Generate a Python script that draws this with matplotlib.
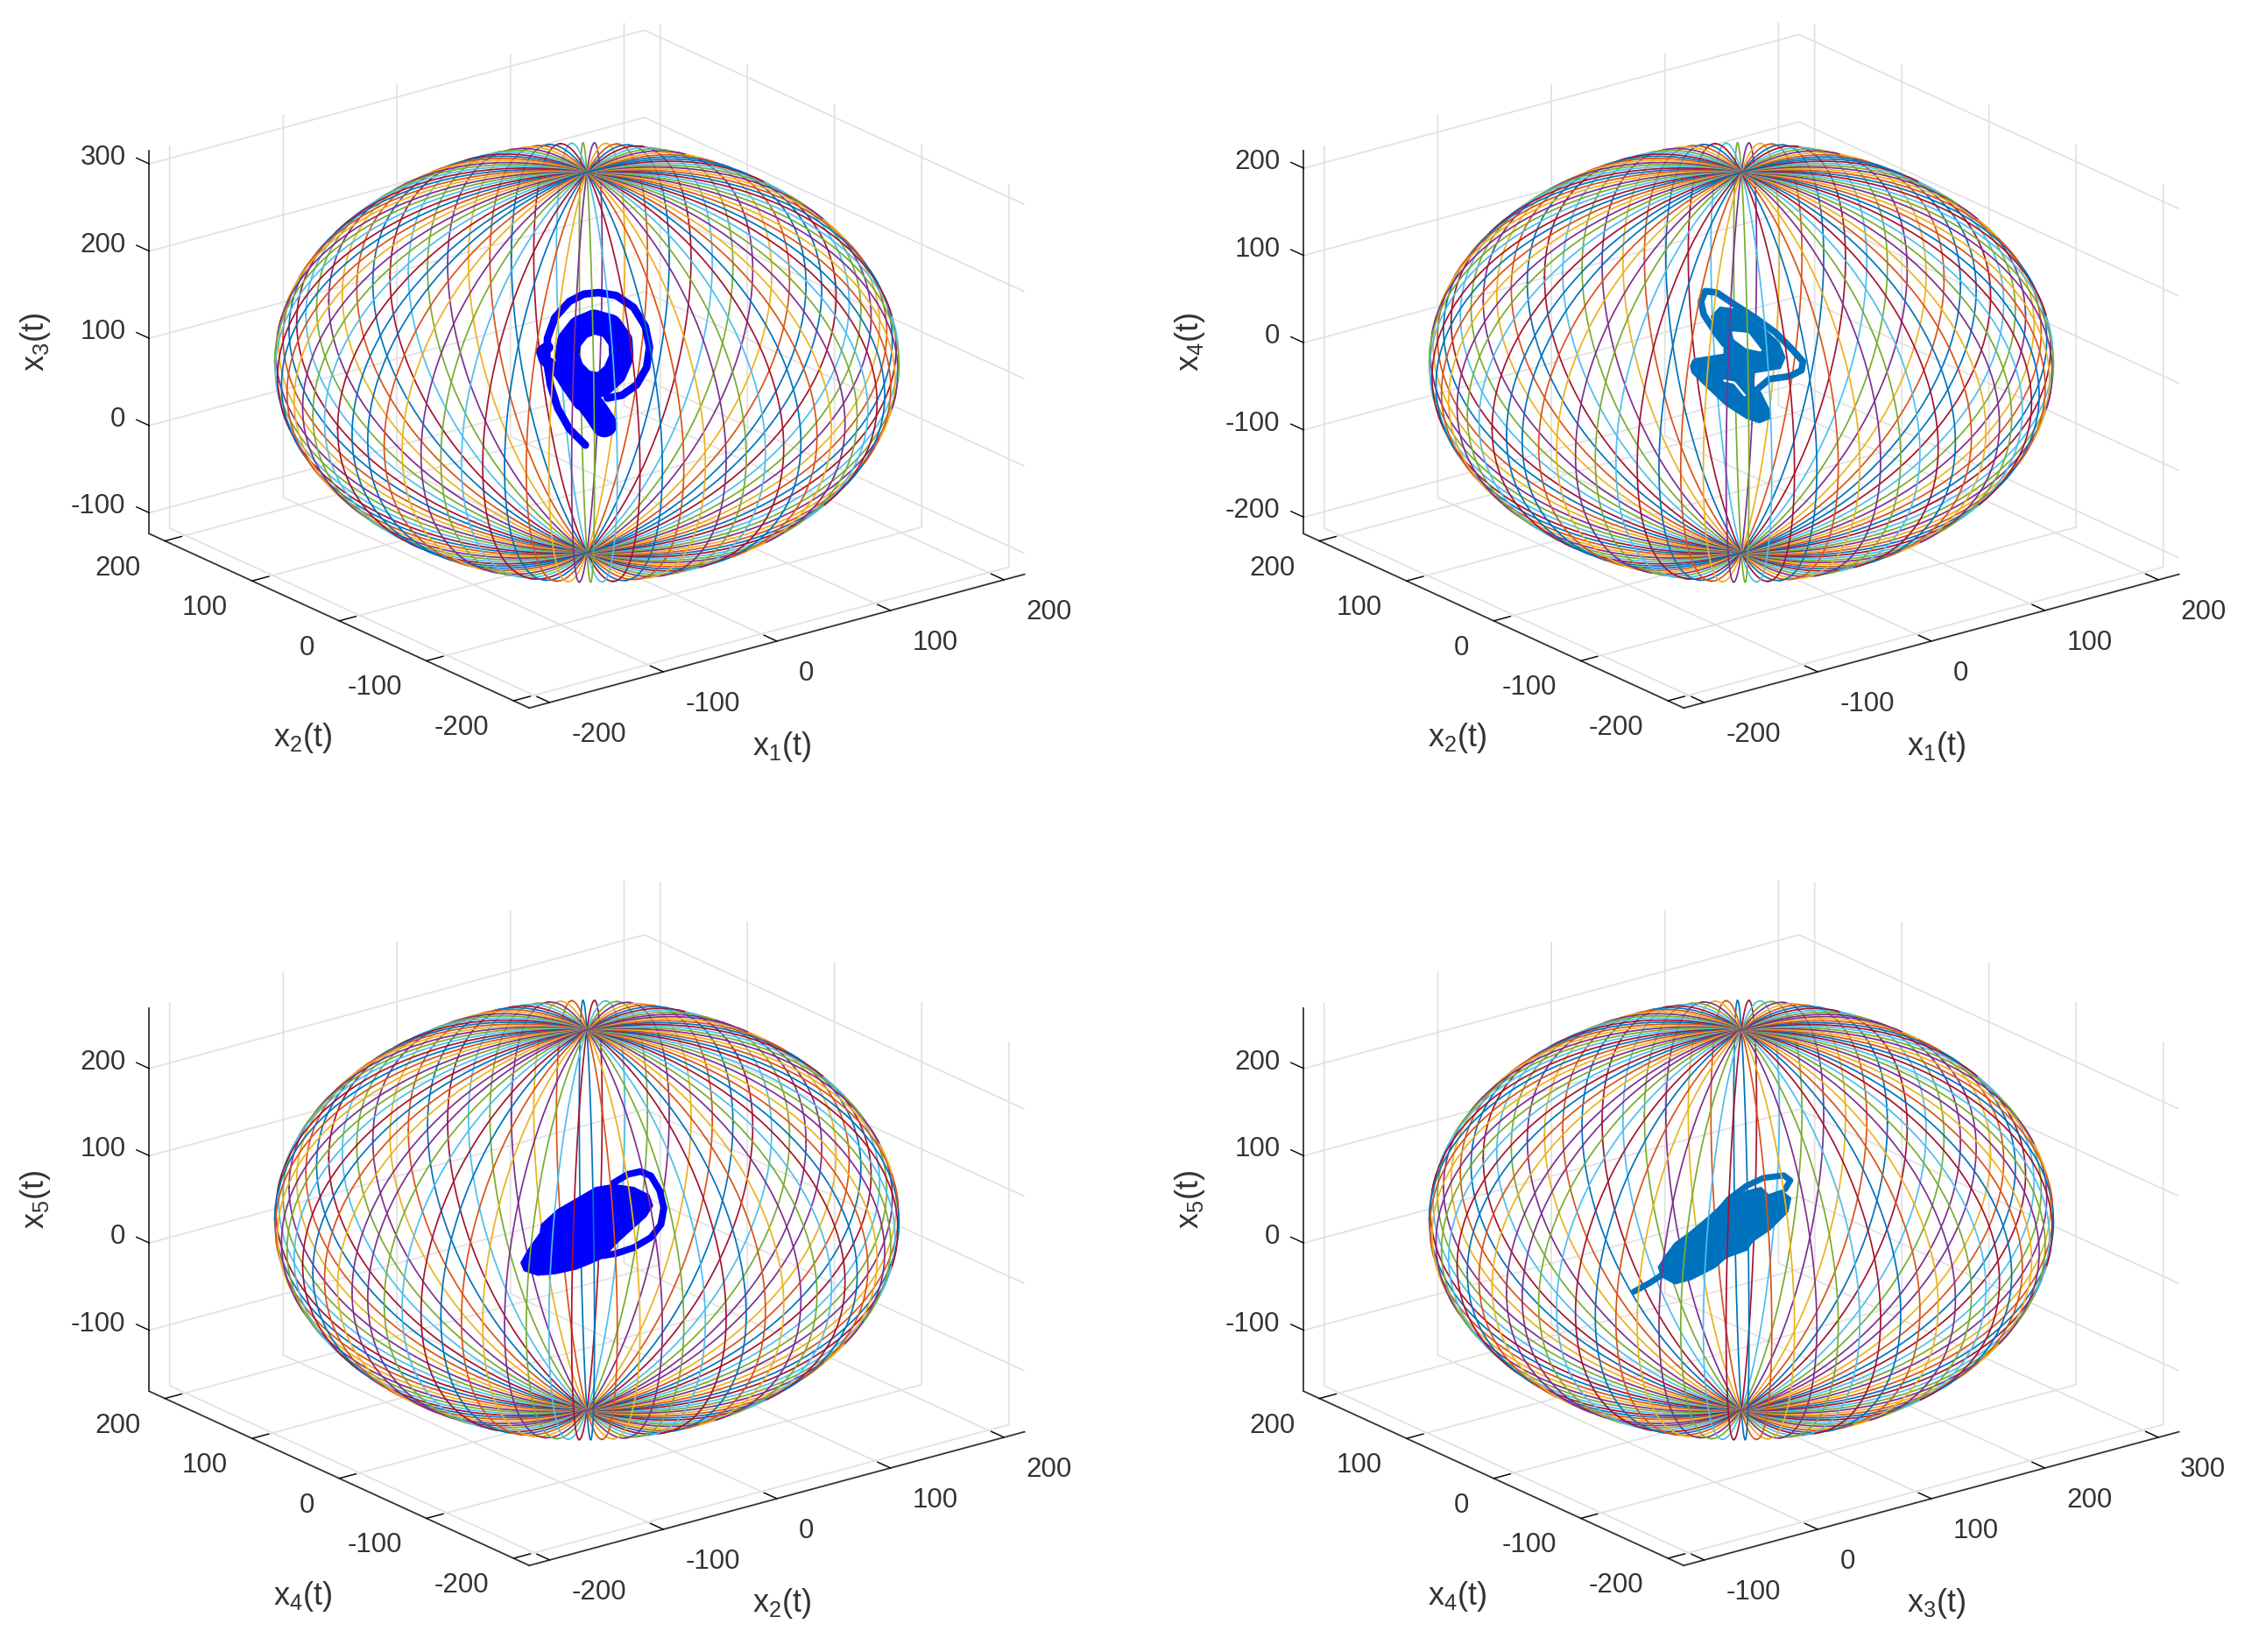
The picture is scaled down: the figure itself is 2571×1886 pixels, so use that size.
#!/usr/bin/env python3
# Four 3D phase plots, each an attractor inside a sphere of meridian circles
import matplotlib
matplotlib.use("Agg")
import matplotlib.pyplot as plt
import numpy as np
from mpl_toolkits.mplot3d import proj3d
from mpl_toolkits.mplot3d.art3d import Poly3DCollection

plt.rcParams["font.family"] = ["Liberation Sans", "DejaVu Sans"]
plt.rcParams["mathtext.fontset"] = "custom"
plt.rcParams["mathtext.rm"] = "Liberation Sans"
plt.rcParams["grid.color"] = "#e2e2e2"
plt.rcParams["grid.linewidth"] = 1.3

# MATLAB line order, and the two trajectory colours
line_colors = ["#0072BD", "#D95319", "#EDB120", "#7E2F8E", "#77AC30", "#4DBEEE", "#A2142F"]
blue_pure = "#0000FF"
blue_matlab = "#0072BD"
text_color = "#333333"

# meridian longitudes in degrees, read from the petals at the poles
meridians = [7.9, 12.0, 16.2, 20.4, 24.6, 28.8, 33.0, 37.2, 41.3, 45.5, 49.7,
             53.9, 58.1, 62.3, 66.5, 70.6, 74.8, 79.0, 83.2, 87.4, 91.6, 95.8,
             100.0, 104.1, 108.3, 112.5, 116.7, 120.9, 125.1, 129.3, 133.4,
             137.6, 141.8, 146.0, 150.2, 154.4, 158.6, 162.8, 166.9, 171.1,
             175.3, 179.5, 183.7]
sphere_radius = 218

# axis limits and ticks
lim_x12 = (-218, 218)
lim_x3 = (-118, 318)
lim_x3_up = (-124, 315)
lim_x4 = (-218, 218)
lim_x4_up = (-219, 220)
lim_x5_up = (-170, 269)
ticks_200 = [-200, -100, 0, 100, 200]
ticks_x3 = [-100, 0, 100, 200, 300]
ticks_x5 = [-100, 0, 100, 200]

# traced trajectories, horizontal variable then vertical variable
# panel 1: x1, x3
p1_ring_x = [-0.8, -9.7, -16.1, -20.2, -22.3, -21.8, -17.7, -9.7, -1.6, 6.5, 16.2, 25.8, 32.3, 34.7, 33.1, 27.5, 19.4, 11.3]
p1_ring_z = [0.9, 19.4, 42.9, 69.8, 96.6, 123.6, 147.1, 165.5, 174, 175.7, 172.4, 158.9, 137.1, 113.4, 90, 69.8, 58, 54.7]
p1_loop_x = [4.0, 12.9, 18.6, 19.1, 15.3, 8.1, -1.6, -8.1, -11, -9.7, -4, 4.0]
p1_loop_z = [142.1, 137.1, 120.3, 101.8, 83.3, 69.8, 73.1, 86.6, 103.4, 120.3, 135.4, 142.1]
p1_lobe_x = [-9.7, -2.4, 4.9, 9.7]
p1_lobe_z = [86.6, 59.7, 39.5, 24.4]
p1_side_x = [-21.8, -25, -23.4, -16.9, -11.3, -4]
p1_side_z = [112.9, 108.4, 98.4, 88.3, 69.8, 48]

# panel 2: x1, x4
p2_ring_x = [9.8, 15.5, 26.8, 33.3, 34.1, 28.4, 18.7, 7.4, -3.9, -13.6, -20, -22.4, -20.8, -14.4, -9.5]
p2_ring_z = [-28.5, -18.5, -15.2, -8.4, 1.6, 15.1, 35.2, 52.1, 67.2, 80.7, 82.3, 70.5, 55.4, 35.2, 21.9]
p2_blob_x = [-16.5, -11.9, -3.9, 3.4, 12.3, 20.3, 23.6, 21.1, 6.6, 5.8, 9.8, 14.7, 15.5, 9.8, 2.6, -8.7, -21.6, -27.3, -28.1, -26.8, -24.9, -9.5, -9.5, -14.4]
p2_blob_z = [53.7, 63.8, 61.5, 52.1, 38.6, 23.5, 6.7, -5.1, -10.1, -25.3, -32, -52.2, -62.2, -67.3, -62.2, -47.1, -21.9, -10.1, -3.4, 3.3, 5, 10, 21.8, 42]
p2_hole_x = [-4.7, 3.4, 10.3, 2.6, -3.9]
p2_hole_z = [35.3, 33.6, 15.1, 18.4, 28.5]
p2_slit_x = [-9.5, -3.9, 1.8]
p2_slit_z = [-20.2, -22.6, -37]

# panel 3: x2, x5
p3_blob_x = [-36.4, -32.3, -25.9, -25.1, -16.2, -4.9, 4.8, 14.5, 25.8, 33.9, 35.8, 32.3, 24.2, 16.1, 8.8, 1.6, -6.5, -17.8, -27.5, -34.7]
p3_blob_z = [1, 16.1, 34.6, 44.6, 61.4, 74.9, 86.7, 90, 86.7, 78.2, 66.6, 54.7, 39.6, 24.4, 7.6, 1, -5.7, -10.8, -12.5, -7.5]
p3_ring_x = [8.8, 16.1, 25.8, 35.5, 41.1, 42.7, 40.3, 35.5, 29.8, 22.6, 14.5]
p3_ring_z = [8.7, 11.1, 17.8, 29.6, 44.6, 63.1, 83.4, 100.2, 105.2, 101.9, 91.7]

# panel 4: x3, x5
p4_blob_x = [54.1, 58.2, 63, 71.9, 81.6, 89.6, 97.7, 110.6, 114.7, 121.9, 126.8, 125.2, 115.5, 105.8, 102.6, 91.3, 84.8, 71.9, 63, 55.7]
p4_blob_z = [-4, 9.3, 22.8, 36.3, 53.1, 68.2, 79.9, 86.7, 78.2, 83.4, 74.9, 59.7, 39.6, 26.1, 16.1, 7.6, -4, -17.5, -22.5, -14.2]
p4_tail_x = [40.4, 49.3, 57.4]
p4_tail_z = [-32.7, -22.5, -11.5]
p4_ring_x = [84.8, 92.9, 102.6, 112.2, 123.5, 127.1, 124.3]
p4_ring_z = [53.1, 73.2, 88.4, 97.8, 100.7, 95, 85]

# view of the MATLAB default 3D plot, and the size of one 3D axes in pixels
ELEV, AZIM = 30, -127.5
AX_W, AX_H = 1201, 845
FIG_W, FIG_H = 2571, 1886
FONT = 22.5
LABEL_FONT = 26
cam = np.array([np.cos(np.radians(ELEV)) * np.cos(np.radians(AZIM)),
                np.cos(np.radians(ELEV)) * np.sin(np.radians(AZIM)),
                np.sin(np.radians(ELEV))])


def mid(lim):
    return (lim[0] + lim[1]) / 2


def tick_text(ax, x, y, z, value, dx, dy, ha):
    # tick labels sit at a fixed pixel offset from where the tick lands
    px, py, _ = proj3d.proj_transform(x, y, z, ax.get_proj())
    ax.annotate(str(value), xy=(px, py), xycoords="data", xytext=(dx, dy), textcoords="offset pixels",
                ha=ha, va="center", fontsize=FONT, color=text_color, annotation_clip=False)


def make_axes(fig, cx, cy, xlim, ylim, zlim, xticks, yticks, zticks):
    rect = [(cx - 0.5135 * AX_W) / FIG_W, (FIG_H - cy - 0.5135 * AX_H) / FIG_H,
            AX_W / FIG_W, AX_H / FIG_H]
    ax = fig.add_axes(rect, projection="3d", proj_type="ortho")
    ax.apply_aspect = lambda position=None: None  # the reference is not square
    ax.computed_zorder = False
    ax.set_box_aspect((1, 1, (zlim[1] - zlim[0]) / 436))
    ax.view_init(elev=ELEV, azim=AZIM)
    ax.set_xlim(xlim)
    ax.set_ylim(ylim)
    ax.set_zlim(zlim)
    ax.set_xticks(xticks)
    ax.set_yticks(yticks)
    ax.set_zticks(zticks)
    ax.set_xticklabels([])
    ax.set_yticklabels([])
    ax.set_zticklabels([])
    ax.patch.set_alpha(0)
    for axis in (ax.xaxis, ax.yaxis, ax.zaxis):
        axis.pane.set_visible(False)
        axis.line.set_color("#333333")
        axis.line.set_linewidth(1.3)
        axis._axinfo["tick"]["inward_factor"] = 0.0
        axis._axinfo["tick"]["outward_factor"] = 0.42
        axis._axinfo["tick"]["linewidth"] = {True: 1.0, False: 0.5}
        axis._axinfo["tick"]["color"] = "#333333"
    ax.zaxis._get_tickdir = lambda pos: 1  # z ticks run along the y direction
    for t in xticks:
        tick_text(ax, t, ylim[0], zlim[0], t, 25, -37, "left")
    for t in yticks:
        tick_text(ax, xlim[0], t, zlim[0], t, -28, -31, "right")
    for t in zticks:
        tick_text(ax, xlim[0], ylim[1], t, t, -27, 7, "right")
    return ax


def draw_sphere(ax, xlim, ylim, zlim, color_shift=0):
    t = np.radians(np.arange(0, 360.5, 1.0))
    for k, phi in enumerate(meridians):
        p = np.radians(phi)
        x = sphere_radius * np.cos(t) * np.cos(p)
        y = sphere_radius * np.cos(t) * np.sin(p)
        z = sphere_radius * np.sin(t)
        depth = x * cam[0] + y * cam[1] + z * cam[2]
        back = np.where(depth < 6, 1.0, np.nan)
        front = np.where(depth > -6, 1.0, np.nan)
        c = line_colors[(k + color_shift) % 7]
        ax.plot((x + mid(xlim)) * back, (y + mid(ylim)) * back, (z + mid(zlim)) * back,
                color=c, lw=1.25, zorder=2)
        ax.plot((x + mid(xlim)) * front, (y + mid(ylim)) * front, (z + mid(zlim)) * front,
                color=c, lw=1.25, zorder=5)


def flat_y(x, xlim, ylim):
    # depth can't be read off a flat picture, so traces stay in the screen plane
    return mid(ylim) - 0.768 * (np.array(x) - mid(xlim))


def stroke(ax, x, z, xlim, ylim, color, lw, order=3):
    ax.plot(x, flat_y(x, xlim, ylim), z, color=color, lw=lw, zorder=order,
            solid_capstyle="round", solid_joinstyle="round")


def blob(ax, x, z, xlim, ylim, color, order=3):
    verts = list(zip(x, flat_y(x, xlim, ylim), z))
    ax.add_collection3d(Poly3DCollection([verts], facecolor=color, edgecolor=color, linewidth=2, zorder=order, shade=False))


fig = plt.figure(figsize=(FIG_W / 100, FIG_H / 100), dpi=100)
fig.patch.set_facecolor("white")
DX, DY = 1318, 979
CX, CY = 670, 413.9

# panel 1
xl, yl, zl = lim_x12, lim_x12, lim_x3_up
ax1 = make_axes(fig, CX, CY, xl, yl, zl, ticks_200, ticks_200, ticks_x3)
draw_sphere(ax1, xl, yl, zl)
stroke(ax1, p1_ring_x, p1_ring_z, xl, yl, blue_pure, 6.2)
stroke(ax1, p1_loop_x, p1_loop_z, xl, yl, blue_pure, 20)
stroke(ax1, p1_lobe_x, p1_lobe_z, xl, yl, blue_pure, 21)
stroke(ax1, p1_side_x, p1_side_z, xl, yl, blue_pure, 9.6)

# panel 2
xl, yl, zl = lim_x12, lim_x12, lim_x4_up
ax2 = make_axes(fig, CX + DX, CY, xl, yl, zl, ticks_200, ticks_200, ticks_200)
draw_sphere(ax2, xl, yl, zl)
stroke(ax2, p2_ring_x, p2_ring_z, xl, yl, blue_matlab, 5.5)
blob(ax2, p2_blob_x, p2_blob_z, xl, yl, blue_matlab)
blob(ax2, p2_hole_x, p2_hole_z, xl, yl, "white", order=4)
stroke(ax2, p2_slit_x, p2_slit_z, xl, yl, "white", 1.8, order=4)

# panel 3
xl, yl, zl = lim_x12, lim_x4, lim_x5_up
ax3 = make_axes(fig, CX, CY + DY, xl, yl, zl, ticks_200, ticks_200, ticks_x5)
draw_sphere(ax3, xl, yl, zl, color_shift=3)
blob(ax3, p3_blob_x, p3_blob_z, xl, yl, blue_pure)
stroke(ax3, p3_ring_x, p3_ring_z, xl, yl, blue_pure, 5.5)

# panel 4
xl, yl, zl = lim_x3, lim_x4, lim_x5_up
ax4 = make_axes(fig, CX + DX, CY + DY, xl, yl, zl, ticks_x3, ticks_200, ticks_x5)
draw_sphere(ax4, xl, yl, zl, color_shift=3)
blob(ax4, p4_blob_x, p4_blob_z, xl, yl, blue_matlab)
stroke(ax4, p4_tail_x, p4_tail_z, xl, yl, blue_matlab, 5)
stroke(ax4, p4_ring_x, p4_ring_z, xl, yl, blue_matlab, 5)

# axis labels
labels = [("x$_1$(t)", "x$_2$(t)", "x$_3$(t)"), ("x$_1$(t)", "x$_2$(t)", "x$_4$(t)"),
          ("x$_2$(t)", "x$_4$(t)", "x$_5$(t)"), ("x$_3$(t)", "x$_4$(t)", "x$_5$(t)")]
offsets = [(0, 0), (DX, 0), (0, DY), (DX, DY)]
for (lx, ly, lz), (ox, oy) in zip(labels, offsets):
    fig.text((893 + ox) / FIG_W, 1 - (852 + oy) / FIG_H, lx, fontsize=LABEL_FONT, color=text_color, ha="center", va="center")
    fig.text((346 + ox) / FIG_W, 1 - (843 + oy) / FIG_H, ly, fontsize=LABEL_FONT, color=text_color, ha="center", va="center")
    fig.text((40 + ox) / FIG_W, 1 - (390 + oy) / FIG_H, lz, fontsize=LABEL_FONT, color=text_color, ha="center", va="center", rotation=90)

fig.savefig("out.png", dpi=100, facecolor="white")
